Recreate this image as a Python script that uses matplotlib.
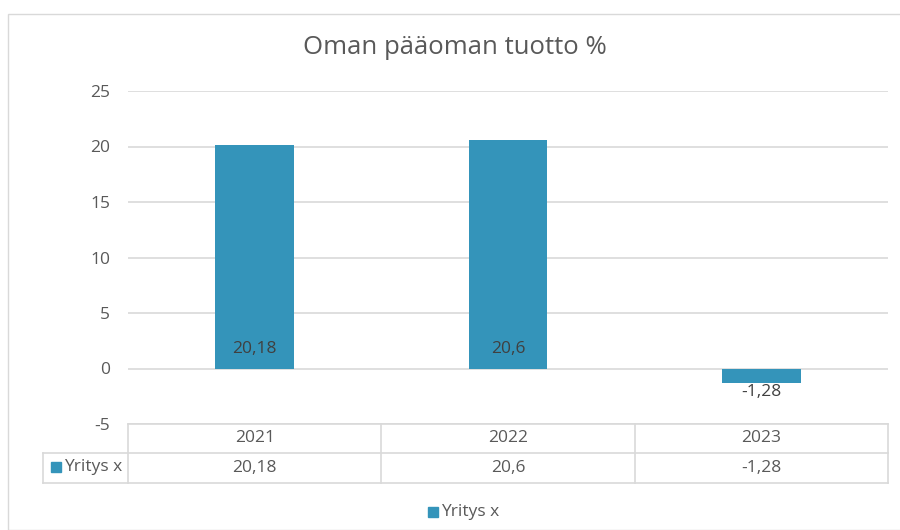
import matplotlib.pyplot as plt
import matplotlib.transforms as mtransforms
from matplotlib.patches import Rectangle

plt.rcParams['font.family'] = ['Open Sans', 'DejaVu Sans']

# ======= data =======
TITLE = "Oman pääoman tuotto %"
SERIES = "Yritys x"
YEARS = ["2021", "2022", "2023"]
VALUES = [20.18, 20.6, -1.28]
LABELS = ["20,18", "20,6", "-1,28"]
YTICKS = [-5, 0, 5, 10, 15, 20, 25]

BAR_COLOR = '#3494BA'
TEXT_COLOR = '#595959'
GRID_COLOR = '#D9D9D9'
FS = 12.5

W, H = 900, 530
fig = plt.figure(figsize=(9, 5.3), dpi=100)

# outer chart border
fig.patches.append(Rectangle((8 / W, 0), 1.0, 1 - 14 / H, transform=fig.transFigure,
                             fill=False, edgecolor=GRID_COLOR, linewidth=1.0))

ax = fig.add_axes([128 / W, 1 - 424 / H, (888 - 128) / W, (424 - 91) / H])
x = list(range(len(YEARS)))
ax.bar(x, VALUES, width=0.31, color=BAR_COLOR, zorder=3)
ax.set_xlim(-0.5, len(YEARS) - 0.5)
ax.set_ylim(-5, 25)
ax.set_yticks(YTICKS)
ax.set_yticklabels([str(t) for t in YTICKS], fontsize=FS, color=TEXT_COLOR)
ax.tick_params(axis='y', length=0, pad=13)
ax.set_xticks([])
for s in ax.spines.values():
    s.set_visible(False)
ax.grid(axis='y', color=GRID_COLOR, linewidth=1.2, zorder=0)

# data labels (inside base)
for xi, v, lab in zip(x, VALUES, LABELS):
    if v >= 0:
        ax.text(xi, 1.75, lab, ha='center', va='center', fontsize=FS, color='#404040', zorder=4)
    else:
        ax.text(xi, v - 0.85, lab, ha='center', va='center', fontsize=FS, color='#404040', zorder=4)

# data table under the plot area
trans = mtransforms.blended_transform_factory(ax.transData, ax.transAxes)
ph = 424 - 91
r1 = -(453 - 424) / ph
r2 = -(483 - 424) / ph
left = -0.5 - (128 - 43) / (888 - 128) * 3
line_kw = dict(color=GRID_COLOR, linewidth=1.2, transform=trans, clip_on=False)
ax.plot([-0.5, 2.5], [0, 0], **line_kw)
ax.plot([left, 2.5], [r1, r1], **line_kw)
ax.plot([left, 2.5], [r2, r2], **line_kw)
for b in [-0.5, 0.5, 1.5, 2.5]:
    ax.plot([b, b], [0, r2], **line_kw)
ax.plot([left, left], [r1, r2], **line_kw)

for xi, yr, lab in zip(x, YEARS, LABELS):
    ax.text(xi, r1 / 2, yr, ha='center', va='center', fontsize=FS, color=TEXT_COLOR,
            transform=trans, clip_on=False)
    ax.text(xi, (r1 + r2) / 2, lab, ha='center', va='center', fontsize=FS, color=TEXT_COLOR,
            transform=trans, clip_on=False)

# series key in table
fig.patches.append(Rectangle((51 / W, 1 - 472 / H), 10 / W, 10 / H, transform=fig.transFigure,
                             color=BAR_COLOR))
fig.text(64 / W, 1 - 467 / H, SERIES, ha='left', va='center', fontsize=FS, color=TEXT_COLOR)

# legend
fig.patches.append(Rectangle((428 / W, 1 - 517 / H), 10 / W, 10 / H, transform=fig.transFigure,
                             color=BAR_COLOR))
fig.text(441 / W, 1 - 512 / H, SERIES, ha='left', va='center', fontsize=FS, color=TEXT_COLOR)

fig.text(455 / W, 1 - 48 / H, TITLE, ha='center', va='center', fontsize=18.5, color=TEXT_COLOR)

fig.savefig('out.png', dpi=100)
